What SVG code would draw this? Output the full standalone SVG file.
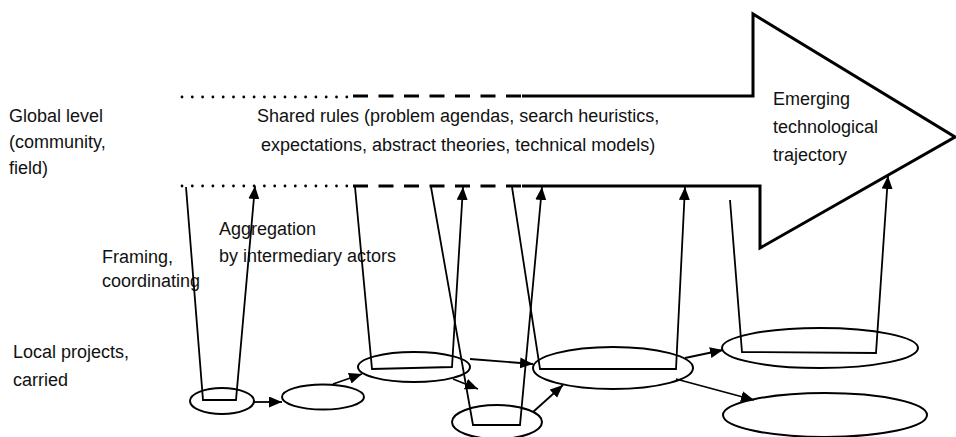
<svg xmlns="http://www.w3.org/2000/svg" width="956" height="437" viewBox="0 0 956 437">
<style>
text{font-family:"Liberation Sans",Arial,sans-serif;font-size:18px;fill:#111}
.el{fill:none;stroke:#000;stroke-width:2}
.c{fill:none;stroke:#000;stroke-width:1.8;stroke-linejoin:miter}
.big{fill:none;stroke:#000;stroke-width:3;stroke-linejoin:miter}
.dot{fill:none;stroke:#000;stroke-width:2.8;stroke-linecap:round;stroke-dasharray:0 10.3}
.dash{fill:none;stroke:#000;stroke-width:3;stroke-dasharray:15 10.5}
</style>
<defs>
<marker id="ah" markerUnits="userSpaceOnUse" markerWidth="14" markerHeight="12" refX="13" refY="5.5" orient="auto">
<path d="M0,0 L13,5.5 L0,11 z" fill="#000"/>
</marker>
</defs>
<rect width="956" height="437" fill="#fff"/>

<g id="trajectory-arrow">
<path class="big" d="M522,96 L753,96 L753,14 L955,137 L760,248 L760,186 L522,186"/>
<path class="dash" d="M353,96 L522,96"/>
<path class="dash" d="M353,186 L522,186"/>
<path class="dot" d="M182,97 L348,97"/>
<path class="dot" d="M182,186 L348,186"/>
</g>

<g id="labels">
<text x="9" y="122">Global level</text>
<text x="9" y="148">(community,</text>
<text x="9" y="174">field)</text>
<text x="257" y="122">Shared rules (problem agendas, search heuristics,</text>
<text x="261" y="151">expectations, abstract theories, technical models)</text>
<text x="773" y="105">Emerging</text>
<text x="773" y="133">technological</text>
<text x="773" y="161">trajectory</text>
<text x="102" y="263">Framing,</text>
<text x="102" y="287">coordinating</text>
<text x="219" y="235">Aggregation</text>
<text x="219" y="262">by intermediary actors</text>
<text x="13" y="358">Local projects,</text>
<text x="13" y="386">carried</text>
</g>

<g id="project-1"><ellipse class="el" cx="222" cy="401" rx="32" ry="13"/></g>
<g id="project-2"><ellipse class="el" cx="323" cy="397" rx="41" ry="12.5"/></g>
<g id="project-3"><ellipse class="el" cx="414" cy="367" rx="56" ry="15"/></g>
<g id="project-4"><ellipse class="el" cx="497" cy="422" rx="45" ry="17"/></g>
<g id="project-5"><ellipse class="el" cx="613" cy="368" rx="80" ry="21"/></g>
<g id="project-6"><ellipse class="el" cx="820" cy="348" rx="98" ry="20"/></g>
<g id="project-7"><ellipse class="el" cx="825" cy="415" rx="102" ry="22"/></g>

<g id="connectors">
<path class="c" marker-end="url(#ah)" d="M186,187 L203,400 L236,400 L255,186"/>
<path class="c" marker-end="url(#ah)" d="M355,187 L372,369 L452,367 L463,187"/>
<path class="c" marker-end="url(#ah)" d="M431,187 L473,425 L520,425 L542,187"/>
<path class="c" marker-end="url(#ah)" d="M512,187 L540,369 L676,369 L685,187"/>
<path class="c" marker-end="url(#ah)" d="M730,200 L742,352 L876,353 L888,176"/>
<path class="c" marker-end="url(#ah)" d="M254,402 L282,402"/>
<path class="c" marker-end="url(#ah)" d="M333,384 L362,374"/>
<path class="c" marker-end="url(#ah)" d="M470,359 L533,364"/>
<path class="c" marker-end="url(#ah)" d="M453,379 L478,389"/>
<path class="c" marker-end="url(#ah)" d="M533,412 L563,385"/>
<path class="c" marker-end="url(#ah)" d="M685,358 L723,350"/>
<path class="c" marker-end="url(#ah)" d="M676,379 L754,400"/>
</g>
</svg>
